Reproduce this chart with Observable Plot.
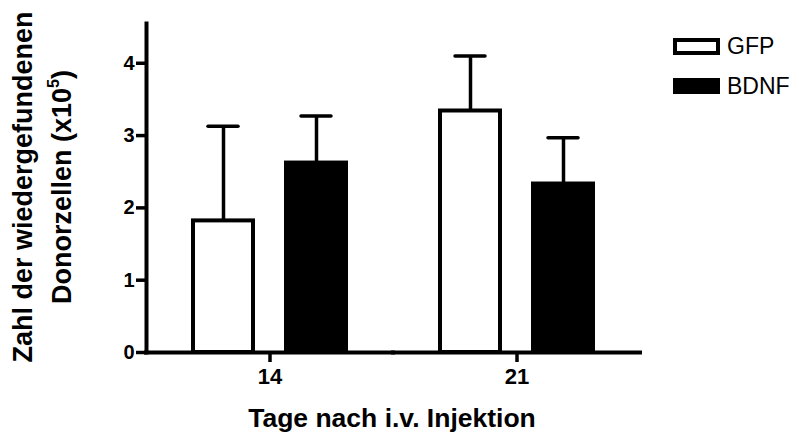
<!DOCTYPE html>
<html>
<head>
<meta charset="utf-8">
<script src="https://cdn.jsdelivr.net/npm/d3@7"></script>
<script src="https://cdn.jsdelivr.net/npm/@observablehq/plot@0.6"></script>
<style>
  html, body { margin: 0; padding: 0; background: #fff; }
  #wrap { position: relative; width: 799px; height: 434px; overflow: hidden; font-family: "Liberation Sans", Arial, sans-serif; color: #000; }
  #wrap svg { position: absolute; left: 0; top: 0; }
  .ytitle { position: absolute; left: 4px; top: 387px; width: 400px; transform-origin: 0 0; transform: rotate(-90deg);
            text-align: center; font-weight: bold; font-size: 27px; line-height: 39px; white-space: nowrap; }
  .ytitle sup { font-size: 0.6em; vertical-align: 0.75em; line-height: 0; }
  .xtitle { position: absolute; left: 192px; top: 403px; width: 400px; text-align: center; font-weight: bold; font-size: 26.5px; line-height: 30px; white-space: nowrap; }
  .legend { position: absolute; left: 673px; top: 30px; }
  .legrow { position: relative; height: 40px; }
  .swatch { position: absolute; left: 0; width: 47px; height: 17px; box-sizing: border-box; border: 4px solid #000; }
  .leglab { position: absolute; left: 54px; font-size: 23px; line-height: 26px; white-space: nowrap; }
</style>
</head>
<body>
<div id="wrap"></div>
<script>
// ---- data ----
const days = ["14", "21"];
const groups = ["GFP", "BDNF"];
const gfpMeans = [1.82, 3.34];
const gfpErrs = [1.31, 0.76];
const bdnfMeans = [2.62, 2.33];
const bdnfErrs = [0.65, 0.64];
const yTicks = [0, 1, 2, 3, 4];
const groupColors = ["white", "black"];
const xTitle = "Tage nach i.v. Injektion";
const yTitleLine1 = "Zahl der wiedergefundenen";
const yTitleLine2 = "Donorzellen (x10";
const yTitleSup = "5";

// build table
const rows = [];
days.forEach((d, i) => {
  rows.push({day: d, group: groups[0], value: gfpMeans[i], err: gfpErrs[i]});
  rows.push({day: d, group: groups[1], value: bdnfMeans[i], err: bdnfErrs[i]});
});

const chart = Plot.plot({
  width: 799,
  height: 434,
  marginTop: 23,
  marginBottom: 82,
  marginLeft: 145,
  marginRight: 159,
  style: {fontFamily: "'Liberation Sans', Arial, sans-serif", fontWeight: "bold", color: "black", background: "white"},
  fx: {domain: days, padding: 0},
  x: {domain: groups, paddingInner: 0.351, paddingOuter: 0.492, axis: null},
  y: {domain: [0, 4.55], axis: null},
  color: {domain: groups, range: groupColors},
  marks: [
    Plot.ruleY([0], {stroke: "black", strokeWidth: 4, strokeLinecap: "square"}),
    Plot.frame({anchor: "left", facetAnchor: "left", stroke: "black", strokeWidth: 4, strokeLinecap: "square"}),
    Plot.barY(rows, {fx: "day", x: "group", y: "value", fill: "group", stroke: "black", strokeWidth: 4, insetLeft: 0, insetRight: 0}),
    Plot.ruleX(rows, {fx: "day", x: "group", y1: "value", y2: d => d.value + d.err, stroke: "black", strokeWidth: 3.5}),
    Plot.tickY(rows, {fx: "day", x: "group", y: d => d.value + d.err, stroke: "black", strokeWidth: 3.5, strokeLinecap: "round", insetLeft: 15, insetRight: 15}),
    Plot.axisY({ticks: yTicks, tickSize: 10, tickPadding: 2, strokeWidth: 3.5, fontSize: 20, fontWeight: "bold", label: null, tickFormat: d => String(d)}),
    Plot.axisFx({anchor: "bottom", tickSize: 10, tickPadding: 6, strokeWidth: 3.5, fontSize: 22, fontWeight: "bold", label: null})
  ]
});

const wrap = document.getElementById("wrap");
wrap.appendChild(chart);

// y title
const yt = document.createElement("div");
yt.className = "ytitle";
yt.innerHTML = "";
const l1 = document.createElement("div"); l1.textContent = yTitleLine1;
const l2 = document.createElement("div"); l2.append(yTitleLine2);
const sup = document.createElement("sup"); sup.textContent = yTitleSup; l2.append(sup); l2.append(")");
yt.append(l1, l2);
wrap.appendChild(yt);

// x title
const xt = document.createElement("div");
xt.className = "xtitle";
xt.textContent = xTitle;
wrap.appendChild(xt);

// legend
const leg = document.createElement("div");
leg.className = "legend";
groups.forEach((g, i) => {
  const row = document.createElement("div");
  row.className = "legrow";
  const sw = document.createElement("div");
  sw.className = "swatch";
  sw.style.top = (8 - i * 0) + "px";
  sw.style.background = groupColors[i];
  if (i === 1) sw.style.height = "16px";
  const lab = document.createElement("div");
  lab.className = "leglab";
  lab.style.top = "3px";
  lab.textContent = g;
  row.append(sw, lab);
  leg.appendChild(row);
});
wrap.appendChild(leg);
</script>
</body>
</html>
